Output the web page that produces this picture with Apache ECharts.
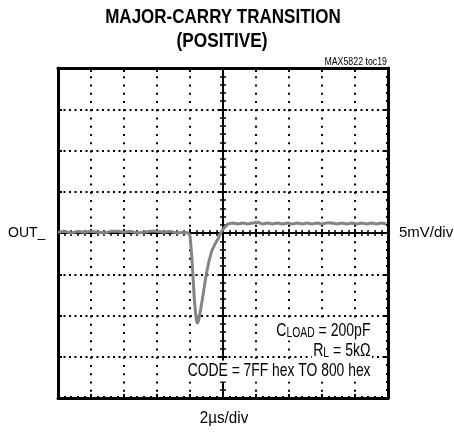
<!DOCTYPE html>
<html lang="en">
<head>
    <meta charset="utf-8">
    <title>MAX5822 toc19</title>
    <script src="https://cdn.jsdelivr.net/npm/echarts@6/dist/echarts.min.js"></script>
    <style>
        html, body {
            margin: 0;
            padding: 0;
            background-color: #ffffff;
        }

        #main {
            width: 454px;
            height: 433px;
        }
    </style>
</head>
<body>
<div id="main"></div>
<script>
    // time in us relative to the screen centre, OUT_ in mV
    var timeUs = [-10, -9.6, -9.2, -8.8, -8.4, -8.0, -7.6, -7.2, -6.8, -6.4, -6.0, -5.6, -5.2, -4.8, -4.4,
        -4.0, -3.6, -3.2, -2.8, -2.4, -2.1,
        -2.0, -1.9, -1.82, -1.74, -1.64, -1.56, -1.47, -1.35, -1.2, -1.03, -0.85, -0.67, -0.5, -0.3, -0.12,
        0.1, 0.3,
        0.6, 0.9, 1.2, 1.5, 1.8, 2.1, 2.4, 2.7, 3.0, 3.3, 3.6, 3.9, 4.2, 4.5, 4.8, 5.1, 5.4, 5.7, 6.0,
        6.3, 6.6, 6.9, 7.2, 7.5, 7.8, 8.1, 8.4, 8.7, 9.0, 9.3, 9.6, 9.9];
    var outMv = [0.1, 0.2, 0.0, 0.2, 0.1, 0.2, 0.1, 0.0, 0.2, 0.2, 0.1, 0.2, 0.0, 0.1, 0.2,
        0.2, 0.1, 0.2, 0.0, 0.1, 0.0,
        -0.3, -2.6, -5.2, -8.0, -10.2, -11.0, -10.5, -9.2, -7.4, -5.2, -3.4, -2.1, -1.4, -0.7, 0.1,
        0.7, 1.1,
        1.2, 1.1, 1.2, 1.1, 1.2, 1.3, 1.1, 1.2, 1.1, 1.2, 1.1, 1.2, 1.1, 1.2, 1.1, 1.2, 1.1, 1.2, 1.1,
        1.2, 1.2, 1.1, 1.2, 1.1, 1.2, 1.1, 1.2, 1.1, 1.2, 1.1, 1.2, 1.1];

    var xRange = [-10, 10];   // 2us/div
    var yRange = [-20, 20];   // 5mV/div

    var font = "'Liberation Sans', Arial, sans-serif";

    var points = [];
    for (var i = 0; i < timeUs.length; i++) {
        points.push([timeUs[i], outMv[i]]);
    }

    function frameAxis(pos, range, step, grid) {
        return {
            type: 'value',
            position: pos,
            min: range[0],
            max: range[1],
            interval: step,
            axisLine: {onZero: false, lineStyle: {color: '#000', width: 3}},
            axisTick: {show: true, inside: true, length: 4, lineStyle: {color: '#000', width: 2}},
            minorTick: {show: true, splitNumber: 5, length: 2, lineStyle: {color: '#000', width: 2}},
            axisLabel: {show: false},
            splitLine: grid
        };
    }

    function centreAxis(pos, range, step, inside) {
        return {
            type: 'value',
            position: pos,
            min: range[0],
            max: range[1],
            interval: step,
            axisLine: {onZero: true, onZeroAxisIndex: 0, lineStyle: {color: '#000', width: 2, type: [2, 1.3]}},
            axisTick: {show: true, inside: inside, length: 4, lineStyle: {color: '#000', width: 2}},
            minorTick: {show: true, splitNumber: 5, length: 3, lineStyle: {color: '#000', width: 1.5}},
            axisLabel: {show: false},
            splitLine: {show: false}
        };
    }

    // condensed look: plain text squeezed horizontally
    function label(x, y, text, size, align, squeeze, bold) {
        return {
            type: 'text', x: x, y: y, scaleX: squeeze, z: 10,
            style: {
                text: text, fill: '#000', fontFamily: font, fontSize: size,
                fontWeight: bold ? 'bold' : 'normal', align: align, verticalAlign: 'middle'
            }
        };
    }

    var richSub = {
        m: {fontFamily: font, fontSize: 19, fill: '#000', lineHeight: 21, verticalAlign: 'bottom'},
        s: {fontFamily: font, fontSize: 14, fill: '#000', lineHeight: 15, verticalAlign: 'bottom'}
    };

    var myChart = echarts.init(document.getElementById('main'), null, {renderer: 'canvas'});
    var option = {
        backgroundColor: '#fff',
        animation: false,
        grid: {left: 58, top: 68, width: 330, height: 330},
        xAxis: [
            frameAxis('bottom', xRange, 2, {show: true, lineStyle: {color: '#000', width: 2, type: [2, 6.25]}}),
            frameAxis('top', xRange, 2, {show: false}),
            centreAxis('bottom', xRange, 2, true),
            centreAxis('bottom', xRange, 2, false)
        ],
        yAxis: [
            frameAxis('left', yRange, 5, {show: true, lineStyle: {color: '#000', width: 2, type: [2, 3.5]}}),
            frameAxis('right', yRange, 5, {show: false}),
            centreAxis('left', yRange, 5, true),
            centreAxis('left', yRange, 5, false)
        ],
        graphic: [
            label(223, 17, 'MAJOR-CARRY TRANSITION', 21, 'center', 0.81, true),
            label(222, 41, '(POSITIVE)', 21, 'center', 0.82, true),
            label(387, 62, 'MAX5822 toc19', 11, 'right', 0.8, false),
            label(8, 233, 'OUT_', 14, 'left', 1, false),
            label(399, 233, '5mV/div', 15, 'left', 1, false),
            label(224, 419, '2\u00b5s/div', 16, 'center', 0.95, false),
            {type: 'text', x: 372, y: 330, z: 10, scaleX: 0.74, style: {
                    text: '{m|C}{s|LOAD}{m| = 200pF}', align: 'right', verticalAlign: 'middle',
                    backgroundColor: '#fff', padding: [0, 2], rich: richSub}},
            {type: 'text', x: 372, y: 350, z: 10, scaleX: 0.74, style: {
                    text: '{m|R}{s|L}{m| = 5k\u03a9}', align: 'right', verticalAlign: 'middle',
                    backgroundColor: '#fff', padding: [0, 2], rich: richSub}},
            {type: 'text', x: 372, y: 371, z: 10, scaleX: 0.73, style: {
                    text: 'CODE = 7FF hex TO 800 hex', fill: '#000', fontFamily: font, fontSize: 19,
                    align: 'right', verticalAlign: 'middle', backgroundColor: '#fff', padding: [1, 2]}}
        ],
        series: [
            {
                name: 'OUT_',
                type: 'line',
                xAxisIndex: 0,
                yAxisIndex: 0,
                data: points,
                showSymbol: false,
                smooth: false,
                z: 5,
                lineStyle: {color: '#858585', width: 3}
            }
        ]
    };
    myChart.setOption(option);
</script>
</body>
</html>
